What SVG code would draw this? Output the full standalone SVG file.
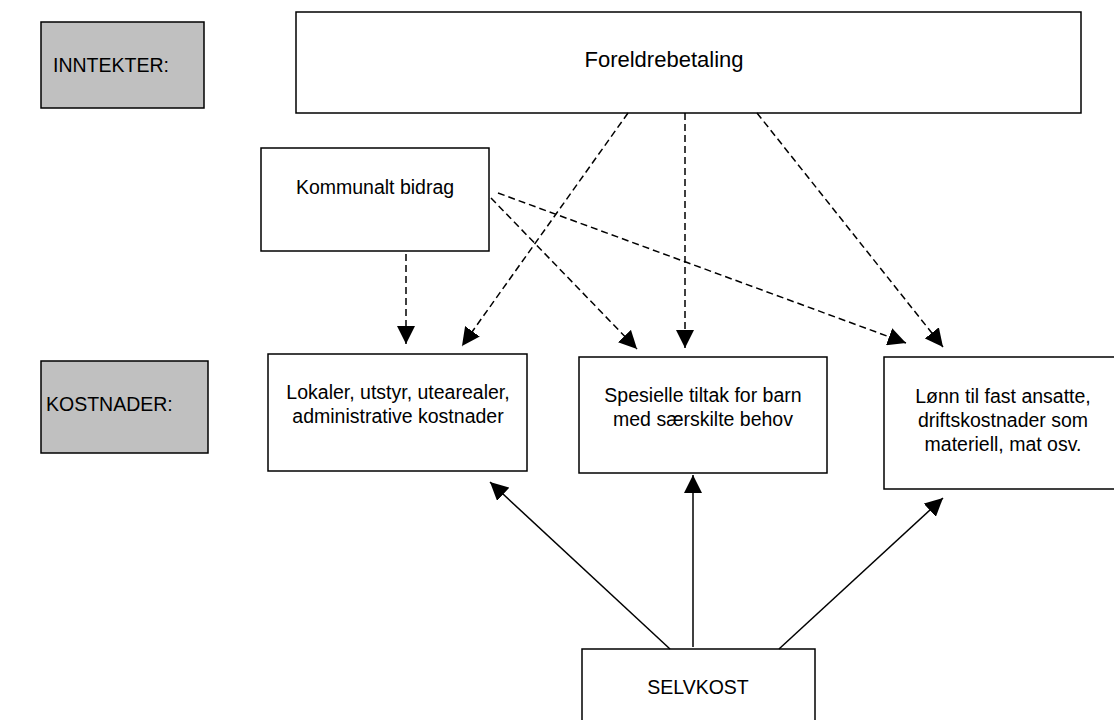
<svg xmlns="http://www.w3.org/2000/svg" width="1114" height="720" viewBox="0 0 1114 720">
<style>
.box{fill:#fff;stroke:#000;stroke-width:1.5}
.gray{fill:#c0c0c0;stroke:#000;stroke-width:1.5}
text{font-family:"Liberation Sans",Arial,sans-serif;font-size:19.5px;fill:#000}
.c{text-anchor:middle}
.dash{stroke:#000;stroke-width:1.5;stroke-dasharray:7,4;fill:none}
.solid{stroke:#000;stroke-width:1.5;fill:none}
</style>
<defs>
<marker id="ah" viewBox="0 0 18 18" refX="18" refY="9" markerWidth="18" markerHeight="18" markerUnits="userSpaceOnUse" orient="auto">
<path d="M0,0 L18,9 L0,18 z" fill="#000"/>
</marker>
</defs>
<rect width="1114" height="720" fill="#fff"/>
<g id="inntekter"><rect class="gray" x="41" y="22" width="163" height="86"/><text x="53" y="72">INNTEKTER:</text></g>
<g id="foreldrebetaling"><rect class="box" x="296" y="12" width="785" height="101"/><text class="c" x="664" y="67" style="font-size:22px">Foreldrebetaling</text></g>
<g id="kommunalt"><rect class="box" x="261" y="148" width="228" height="103"/><text class="c" x="375" y="194">Kommunalt bidrag</text></g>
<g id="kostnader"><rect class="gray" x="41" y="361" width="167" height="92"/><text x="46" y="411">KOSTNADER:</text></g>
<g id="lokaler"><rect class="box" x="268" y="354" width="259" height="117"/><text class="c" x="398" y="399">Lokaler, utstyr, utearealer,</text><text class="c" x="398" y="423">administrative kostnader</text></g>
<g id="spesielle"><rect class="box" x="579" y="357" width="248" height="116"/><text class="c" x="703" y="402">Spesielle tiltak for barn</text><text class="c" x="703" y="426">med særskilte behov</text></g>
<g id="lonn"><rect class="box" x="884" y="357" width="240" height="132"/><text class="c" x="1003" y="403">Lønn til fast ansatte,</text><text class="c" x="1003" y="427">driftskostnader som</text><text class="c" x="1003" y="451">materiell, mat osv.</text></g>
<g id="selvkost"><rect class="box" x="582" y="649" width="233" height="80"/><text class="c" x="698" y="694">SELVKOST</text></g>
<g id="connectors">
<line class="dash" x1="406" y1="254" x2="406" y2="344" marker-end="url(#ah)"/>
<line class="dash" x1="628" y1="113" x2="462" y2="346" marker-end="url(#ah)"/>
<line class="dash" x1="685" y1="113" x2="685" y2="348" marker-end="url(#ah)"/>
<line class="dash" x1="757" y1="113" x2="943" y2="347" marker-end="url(#ah)"/>
<line class="dash" x1="491" y1="198" x2="637" y2="349" marker-end="url(#ah)"/>
<line class="dash" x1="498" y1="193" x2="906" y2="343" marker-end="url(#ah)"/>
<line class="solid" x1="670" y1="649" x2="490" y2="482" marker-end="url(#ah)"/>
<line class="solid" x1="693" y1="647" x2="693" y2="475" marker-end="url(#ah)"/>
<line class="solid" x1="779" y1="649" x2="943" y2="498" marker-end="url(#ah)"/>
</g>
</svg>
